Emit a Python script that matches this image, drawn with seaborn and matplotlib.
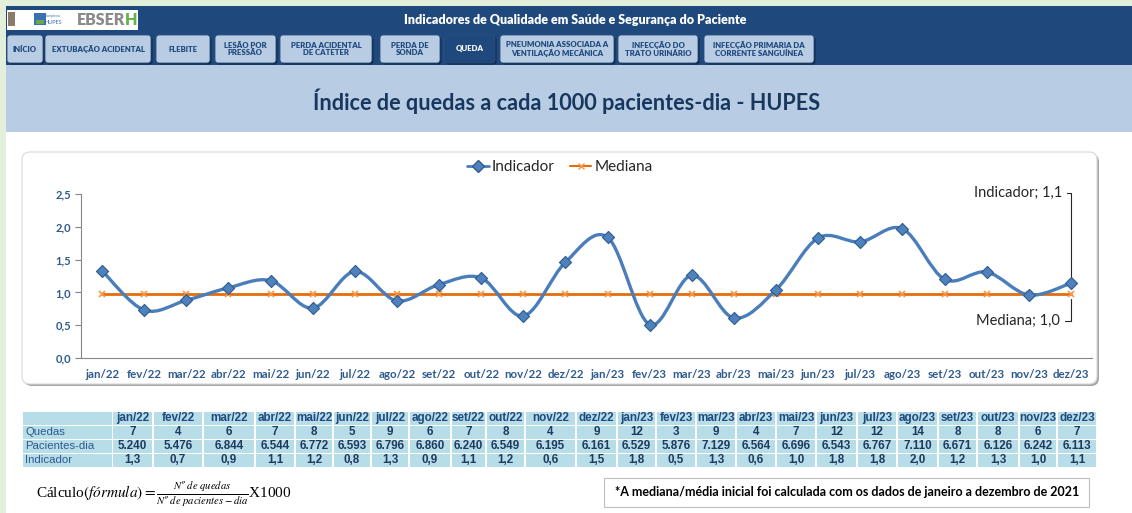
import numpy as np
import pandas as pd
import seaborn as sns
import matplotlib.pyplot as plt
from matplotlib.patches import Rectangle, FancyBboxPatch, PathPatch
from matplotlib.path import Path
from matplotlib.lines import Line2D
from matplotlib import font_manager

meses = ['jan/22', 'fev/22', 'mar/22', 'abr/22', 'mai/22', 'jun/22', 'jul/22', 'ago/22',
         'set/22', 'out/22', 'nov/22', 'dez/22', 'jan/23', 'fev/23', 'mar/23', 'abr/23',
         'mai/23', 'jun/23', 'jul/23', 'ago/23', 'set/23', 'out/23', 'nov/23', 'dez/23']
quedas = [7, 4, 6, 7, 8, 5, 9, 6, 7, 8, 4, 9, 12, 3, 9, 4, 7, 12, 12, 14, 8, 8, 6, 7]
pacientes_dia = [5240, 5476, 6844, 6544, 6772, 6593, 6796, 6860, 6240, 6549, 6195, 6161,
                 6529, 5876, 7129, 6564, 6696, 6543, 6767, 7110, 6671, 6126, 6242, 6113]
indicador = [1.33, 0.73, 0.88, 1.07, 1.18, 0.76, 1.32, 0.87, 1.12, 1.22, 0.64, 1.46,
             1.84, 0.51, 1.26, 0.61, 1.04, 1.83, 1.77, 1.97, 1.20, 1.31, 0.96, 1.14]
mediana = 0.97
menu = ['INÍCIO', 'EXTUBAÇÃO ACIDENTAL', 'FLEBITE', 'LESÃO POR\nPRESSÃO',
        'PERDA ACIDENTAL\nDE CATETER', 'PERDA DE\nSONDA', 'QUEDA',
        'PNEUMONIA ASSOCIADA A\nVENTILAÇÃO MECÂNICA', 'INFECÇÃO DO\nTRATO URINÁRIO',
        'INFECÇÃO PRIMARIA DA\nCORRENTE SANGUÍNEA']
menu_ativo = 'QUEDA'

W, H = 1132, 513
sns.set_style('white')
avail = {f.name for f in font_manager.fontManager.ttflist}
narrow = 'Liberation Sans Narrow' if 'Liberation Sans Narrow' in avail else 'Liberation Sans'
plt.rcParams['font.family'] = ['Lato', 'DejaVu Sans']
plt.rcParams['mathtext.fontset'] = 'stix'

AZUL = '#1f497d'
AZUL_ESC = '#17375e'


def box(x, y, w, h):
    return [x / W, 1 - (y + h) / H, w / W, h / H]


fig = plt.figure(figsize=(W / 100, H / 100), dpi=100, facecolor='#e2efda')

# fundo em coordenadas de pixel
bg = fig.add_axes([0, 0, 1, 1])
bg.set_xlim(0, W)
bg.set_ylim(H, 0)
bg.axis('off')

bg.add_patch(Rectangle((6, 6), W - 6, 59, fc=AZUL, ec='none'))
bg.add_patch(Rectangle((6, 65), W - 6, 67, fc='#b8cce4', ec='none'))
bg.add_patch(Rectangle((6, 132), W - 6, H - 132, fc='white', ec='none'))

# logos
bg.add_patch(Rectangle((7, 10), 131, 20, fc='white', ec='none'))
bg.add_patch(Rectangle((8, 12), 7, 14, fc='#8c7b6b', ec='none'))
bg.add_patch(Rectangle((34, 13), 12, 12, fc='#3a6fb0', ec='none'))
bg.add_patch(Rectangle((36, 20), 8, 4, fc='#6aa84f', ec='none'))
bg.text(53, 16, 'Complexo', fontsize=2.5, color='#3a6fb0', ha='center', va='center')
bg.text(53, 22, 'HUPES', fontsize=4, color='#3a6fb0', ha='center', va='center')
bg.text(125, 20, 'EBSER', fontsize=11.5, weight='heavy', color='#8a8a8a', ha='right', va='center')
bg.text(125, 20, 'H', fontsize=11.5, weight='heavy', color='#6ab04c', ha='left', va='center')

bg.text(575, 20, 'Indicadores de Qualidade em Saúde e Segurança do Paciente',
        fontsize=9, weight='heavy', color='white', ha='center', va='center')

# botões do menu
btn_x = [(7, 43), (45, 151), (156, 210), (215, 276), (280, 372), (380, 440),
         (444, 495), (500, 614), (618, 698), (704, 814)]
for nome, (x0, x1) in zip(menu, btn_x):
    ativo = nome == menu_ativo
    bg.add_patch(FancyBboxPatch((x0 + 1.5, 36.5), x1 - x0, 28, boxstyle='round,pad=0,rounding_size=3',
                                fc='#0f2a4a', ec='none'))
    bg.add_patch(FancyBboxPatch((x0, 35), x1 - x0, 28, boxstyle='round,pad=0,rounding_size=3',
                                fc=AZUL if ativo else '#b8cce4', ec='#2b4f7e', lw=0.6))
    bg.text((x0 + x1) / 2, 49, nome, fontsize=5.6, weight='heavy', linespacing=1.1,
            color='white' if ativo else AZUL, ha='center', va='center')

bg.text(567, 101, 'Índice de quedas a cada 1000 pacientes-dia - HUPES',
        fontsize=15.6, weight='bold', color=AZUL_ESC, ha='center', va='center')

# caixa do gráfico
bg.add_patch(FancyBboxPatch((24, 154), 1075, 232, boxstyle='round,pad=0,rounding_size=8',
                            fc='#a6a6a6', ec='none'))
bg.add_patch(FancyBboxPatch((22, 152), 1075, 232, boxstyle='round,pad=0,rounding_size=8',
                            fc='white', ec='#d9d9d9', lw=0.8))

# tabela
col_edges = [113, 154, 204, 256, 296, 334, 372, 410, 452, 487, 526, 577, 618, 657,
             697, 737, 777, 817, 858, 898, 939, 978, 1020, 1058, 1098]
row_tops = [412, 426, 440, 454]
row_h = 12.5
CELL = '#b7dee8'
rotulos = ['', 'Quedas', 'Pacientes-dia', 'Indicador']
linhas = [meses,
          [str(q) for q in quedas],
          [f'{p:,}'.replace(',', '.') for p in pacientes_dia],
          [f'{v:.1f}'.replace('.', ',') for v in indicador]]
for r, top in enumerate(row_tops):
    bg.add_patch(Rectangle((23, top), 89, row_h, fc=CELL, ec='none'))
    bg.text(25, top + row_h / 2, rotulos[r], fontsize=8.2, family=narrow, color='#2c5a8f',
            ha='left', va='center')
    for c in range(24):
        x0, x1 = col_edges[c], col_edges[c + 1] - 2
        bg.add_patch(Rectangle((x0, top), x1 - x0, row_h, fc=CELL, ec='none'))
        bg.text((x0 + x1) / 2, top + row_h / 2, linhas[r][c], fontsize=8.4, family=narrow,
                weight='bold', color=AZUL if r == 0 else '#1f3a5f', ha='center', va='center')

# fórmula e nota
bg.text(36, 494, r'Cálculo$(fórmula)=\frac{Nº\ de\ quedas}{Nº\ de\ pacientes-dia}$X1000',
        fontsize=11, family=['Liberation Serif', 'DejaVu Serif'], color='black',
        ha='left', va='center')
bg.add_patch(Rectangle((604, 478), 485, 29, fc='white', ec='#bfbfbf', lw=0.8))
bg.text(847, 492.5, '*A mediana/média inicial foi calculada com os dados de janeiro a dezembro de 2021',
        fontsize=9.0, weight='bold', color='black', ha='center', va='center')

# gráfico
df = pd.DataFrame({'pos': np.arange(len(meses)), 'mes': meses,
                   'indicador': indicador, 'mediana': [mediana] * len(meses)})

ax = fig.add_axes(box(81, 194, 1011, 164))
ax.set_facecolor('none')

sns.lineplot(data=df, x='pos', y='mediana', color='#e46c0a', lw=2, marker='x',
             markersize=5, markeredgecolor='#f79646', markeredgewidth=1.2, zorder=2, ax=ax)

# linha suavizada (estilo Excel)
pts = df[['pos', 'indicador']].to_numpy(dtype=float)
verts = [pts[0]]
codes = [Path.MOVETO]
n = len(pts)
for i in range(n - 1):
    p0 = pts[max(i - 1, 0)]
    p1 = pts[i]
    p2 = pts[i + 1]
    p3 = pts[min(i + 2, n - 1)]
    verts += [p1 + (p2 - p0) / 6, p2 - (p3 - p1) / 6, p2]
    codes += [Path.CURVE4] * 3
ax.add_patch(PathPatch(Path(verts, codes), fill=False, ec='#4a7ebb', lw=2.4, zorder=3))
sns.scatterplot(data=df, x='pos', y='indicador', marker='D', s=38, color='#4f81bd',
                edgecolor='#2f5b8f', linewidth=0.8, zorder=4, ax=ax)

ax.set_xlim(-0.5, len(meses) - 0.5)
ax.set_ylim(0, 2.5)
ax.set_xlabel('')
ax.set_ylabel('')
ax.set_xticks(df.pos)
ax.set_xticklabels(meses, fontsize=8.3, weight='bold', color='#2e5a8e')
ax.set_xticks(np.arange(-0.5, len(meses)), minor=True)
ax.tick_params(axis='x', which='major', length=0, pad=8)
ax.tick_params(axis='x', which='minor', length=5, color='#868686', width=0.8)
yt = [0, 0.5, 1.0, 1.5, 2.0, 2.5]
ax.set_yticks(yt)
ax.set_yticklabels([f'{v:.1f}'.replace('.', ',') for v in yt], fontsize=8, weight='bold',
                   color='#2e5a8e')
ax.tick_params(axis='y', length=4, color='#868686', width=0.8, pad=3, left=True)
for s in ['top', 'right']:
    ax.spines[s].set_visible(False)
for s in ['left', 'bottom']:
    ax.spines[s].set_color('#868686')
    ax.spines[s].set_linewidth(0.8)

handles = [Line2D([], [], color='#4a7ebb', lw=2, marker='D', markersize=6,
                  markerfacecolor='#4f81bd', markeredgecolor='#2f5b8f'),
           Line2D([], [], color='#e46c0a', lw=1.5, marker='x', markersize=5,
                  markeredgecolor='#f79646')]
ax.legend(handles, ['Indicador', 'Mediana'], loc='center', ncol=2, frameon=False,
          bbox_to_anchor=(560 / W, 1 - 167 / H), bbox_transform=fig.transFigure,
          fontsize=11, handlelength=1.4, columnspacing=1.0, handletextpad=0.2)

ax.annotate('Indicador; 1,1', xy=(df.pos.iloc[-1], df.indicador.iloc[-1]),
            xytext=(1062, H - 193), textcoords='figure pixels', ha='right', va='center',
            fontsize=10.5, color='#262626',
            arrowprops=dict(arrowstyle='-', color='#262626', lw=0.8, relpos=(1, 0.5),
                            shrinkA=1, shrinkB=3, connectionstyle='angle,angleA=0,angleB=90,rad=0'))
ax.annotate('Mediana; 1,0', xy=(df.pos.iloc[-1], df.mediana.iloc[-1]),
            xytext=(1060, H - 321), textcoords='figure pixels', ha='right', va='center',
            fontsize=10.5, color='#262626',
            arrowprops=dict(arrowstyle='-', color='#262626', lw=0.8, relpos=(1, 0.5),
                            shrinkA=1, shrinkB=3, connectionstyle='angle,angleA=0,angleB=90,rad=0'))

fig.savefig('out.png', dpi=100, facecolor=fig.get_facecolor())
